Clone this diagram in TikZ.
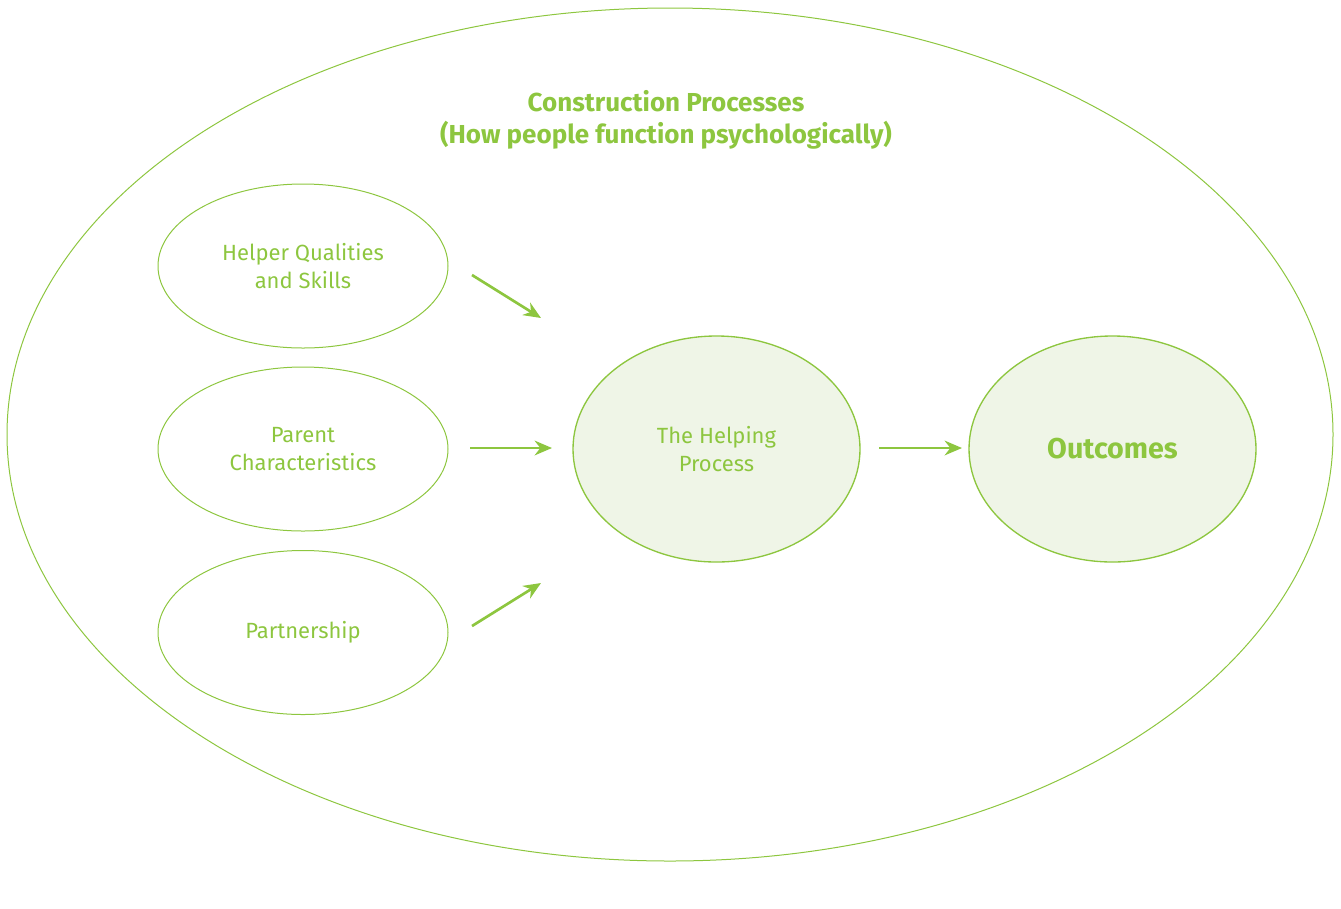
\documentclass[tikz,border=0pt]{standalone}
\usepackage{fontspec}
\setmainfont{Fira Sans}
\usetikzlibrary{shapes.geometric,arrows.meta}
\definecolor{lgreen}{RGB}{141,198,63}
\definecolor{lfill}{RGB}{239,245,231}
\tikzset{
  oval/.style={ellipse, draw=lgreen, line width=0.75pt, inner sep=0pt, text=lgreen, align=center, font=\fontsize{16.5}{21.5}\selectfont},
  leftoval/.style={oval, minimum width=217.5pt, minimum height=123pt},
  filloval/.style={oval, fill=lfill, line width=1pt, minimum width=215.25pt, minimum height=169.5pt},
  arr/.style={draw=lgreen, line width=2pt, -{Stealth[length=13pt,width=11pt]}}
}
\begin{document}
\begin{tikzpicture}[x=0.75pt,y=-0.75pt]
\useasboundingbox (0,0) rectangle (1341,908);
\node[ellipse, draw=lgreen, line width=0.75pt, inner sep=0pt, minimum width=994.5pt, minimum height=639.75pt] (outer) at (670,434.5) {};
\node[text=lgreen, align=center, font=\bfseries\fontsize{19.5}{24}\selectfont] (title) at (666,120) {Construction Processes\\(How people function psychologically)};
\node[leftoval] (hq) at (303,266) {Helper Qualities\\and Skills};
\node[leftoval] (pc) at (303,449) {Parent\\Characteristics};
\node[leftoval] (ps) at (303,632.5) {Partnership};
\node[filloval] (hp) at (716.5,449) {The Helping\\Process};
\node[filloval, font=\bfseries\fontsize{21.5}{24}\selectfont] (oc) at (1112.5,449) {Outcomes};
\coordinate (a1s) at (472,275); \coordinate (a1e) at (541,318);
\coordinate (a2s) at (470,448); \coordinate (a2e) at (552,448);
\coordinate (a3s) at (472,626); \coordinate (a3e) at (541,583);
\coordinate (a4s) at (879,448); \coordinate (a4e) at (962,448);
\draw[arr] (a1s) -- (a1e);
\draw[arr] (a2s) -- (a2e);
\draw[arr] (a3s) -- (a3e);
\draw[arr] (a4s) -- (a4e);
\end{tikzpicture}
\end{document}
